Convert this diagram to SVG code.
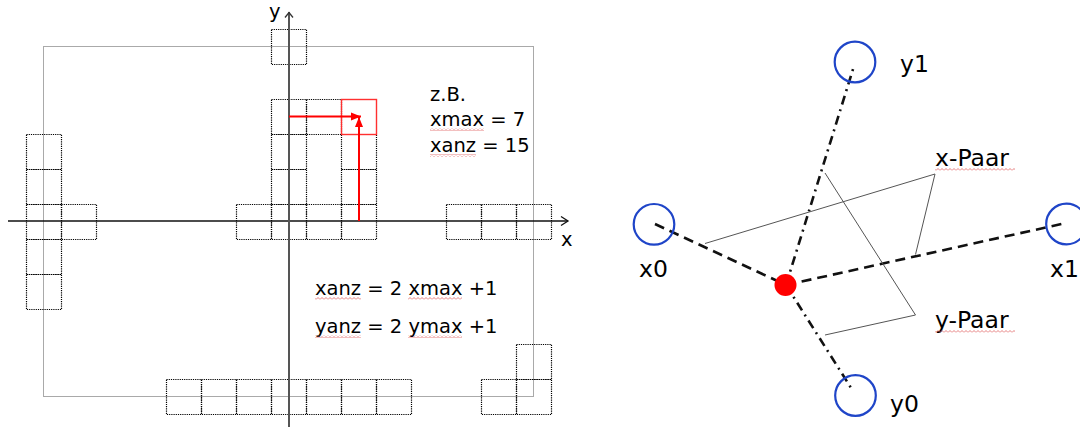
<svg xmlns="http://www.w3.org/2000/svg" width="1080" height="427" viewBox="0 0 1080 427">
<style>
.cell{fill:none;stroke:#000;stroke-width:1.2;stroke-dasharray:1.2 1}
.outer{fill:none;stroke:#555;stroke-width:1.1;stroke-dasharray:1 1}
.t{font-family:"DejaVu Sans",Verdana,sans-serif;font-size:19.5px;fill:#000}
.t2{font-family:"DejaVu Sans",Verdana,sans-serif;font-size:23.5px;fill:#000}
.node{fill:none;stroke:#1f45c8;stroke-width:2.2}
.dash{fill:none;stroke:#111;stroke-width:2.6;stroke-dasharray:10 6}
.dashdot{fill:none;stroke:#111;stroke-width:2.6;stroke-dasharray:9 5 2 5}
.thin{fill:none;stroke:#555;stroke-width:1}
.wave{fill:url(#wv)}
</style>
<defs>
<marker id="ra" markerUnits="userSpaceOnUse" markerWidth="12" markerHeight="10" refX="10" refY="5" orient="auto">
<path d="M0,1 L10,5 L0,9 Z" fill="#ff0000"/>
</marker>
<pattern id="wv" patternUnits="userSpaceOnUse" width="4" height="3">
<path d="M0,2.5 L2,0.5 L4,2.5" fill="none" stroke="#e06060" stroke-width="0.8"/>
</pattern>
</defs>
<rect width="1080" height="427" fill="#fff"/>

<g id="grid-left">
<rect class="outer" x="43.5" y="46.5" width="490" height="350"/>
<g transform="translate(0.5,0.5)">
<rect class="cell" x="271" y="29" width="35" height="35"/>
<rect class="cell" x="271" y="99" width="35" height="35"/>
<rect class="cell" x="271" y="134" width="35" height="35"/>
<rect class="cell" x="271" y="169" width="35" height="35"/>
<rect class="cell" x="271" y="204" width="35" height="35"/>
<rect class="cell" x="306" y="99" width="35" height="35"/>
<rect class="cell" x="306" y="204" width="35" height="35"/>
<rect class="cell" x="341" y="134" width="35" height="35"/>
<rect class="cell" x="341" y="169" width="35" height="35"/>
<rect class="cell" x="341" y="204" width="35" height="35"/>
<rect class="cell" x="236" y="204" width="35" height="35"/>
<rect class="cell" x="446" y="204" width="35" height="35"/>
<rect class="cell" x="481" y="204" width="35" height="35"/>
<rect class="cell" x="516" y="204" width="35" height="35"/>
<rect class="cell" x="26" y="134" width="35" height="35"/>
<rect class="cell" x="26" y="169" width="35" height="35"/>
<rect class="cell" x="26" y="204" width="35" height="35"/>
<rect class="cell" x="26" y="239" width="35" height="35"/>
<rect class="cell" x="26" y="274" width="35" height="35"/>
<rect class="cell" x="61" y="204" width="35" height="35"/>
<rect class="cell" x="166" y="379" width="35" height="35"/>
<rect class="cell" x="201" y="379" width="35" height="35"/>
<rect class="cell" x="236" y="379" width="35" height="35"/>
<rect class="cell" x="271" y="379" width="35" height="35"/>
<rect class="cell" x="306" y="379" width="35" height="35"/>
<rect class="cell" x="341" y="379" width="35" height="35"/>
<rect class="cell" x="376" y="379" width="35" height="35"/>
<rect class="cell" x="481" y="379" width="35" height="35"/>
<rect class="cell" x="516" y="379" width="35" height="35"/>
<rect class="cell" x="516" y="344" width="35" height="35"/>
</g>
<rect x="341.5" y="99.5" width="35" height="35" fill="none" stroke="#ff3030" stroke-width="1.4"/>
</g>

<g id="axes">
<line x1="8" y1="221" x2="568" y2="221" stroke="#111" stroke-width="1.6"/>
<polyline points="561,216.5 568,221 561,225.5" fill="none" stroke="#111" stroke-width="1.3"/>
<text class="t" x="561" y="246">x</text>
<line x1="289" y1="427" x2="289" y2="12" stroke="#555" stroke-width="2"/>
<polyline points="285,17.5 289,12.5 293,17.5" fill="none" stroke="#333" stroke-width="1.3"/>
<text class="t" x="269" y="18">y</text>
</g>

<g id="red-arrows" fill="none" stroke="#ff0000" stroke-width="2">
<line x1="289" y1="116.5" x2="361" y2="116.5" marker-end="url(#ra)"/>
<line x1="359" y1="221" x2="359" y2="117" marker-end="url(#ra)"/>
</g>

<g id="texts-left">
<text class="t" x="430" y="100.5">z.B.</text>
<text class="t" x="430" y="125.5">xmax = 7</text>
<text class="t" x="430" y="151.5">xanz = 15</text>
<text class="t" x="315" y="295">xanz = 2 xmax +1</text>
<text class="t" x="315" y="333">yanz = 2 ymax +1</text>
</g>

<g id="connectors">
<line class="dash" x1="655" y1="224" x2="786" y2="285"/>
<line class="dash" x1="786" y1="285" x2="1066" y2="223"/>
<line class="dashdot" x1="786" y1="285" x2="854" y2="66"/>
<line class="dashdot" x1="786" y1="285" x2="853" y2="391"/>
<polyline class="thin" points="705,243.5 935,174 915.5,254.5"/>
<polyline class="thin" points="825,173 915.5,315 825,335"/>
</g>

<g id="node-x0"><circle class="node" cx="654" cy="224.3" r="20.3"/><text class="t2" x="639" y="277">x0</text></g>
<g id="node-x1"><circle class="node" cx="1066.5" cy="224" r="20.3"/><text class="t2" x="1050" y="277">x1</text></g>
<g id="node-y1"><circle class="node" cx="855" cy="62" r="20.3"/><text class="t2" x="900" y="72">y1</text></g>
<g id="node-y0"><circle class="node" cx="855.5" cy="395.5" r="20.3"/><text class="t2" x="890" y="412">y0</text></g>
<g id="node-center"><circle cx="785.5" cy="285" r="11" fill="#ff0000"/></g>
<g id="label-xpaar"><text class="t2" x="935" y="166">x-Paar</text></g>
<g id="label-ypaar"><text class="t2" x="935" y="328">y-Paar</text></g>

<g id="spellcheck">
<rect class="wave" x="430" y="128" width="54" height="3"/>
<rect class="wave" x="430" y="154" width="46" height="3"/>
<rect class="wave" x="315" y="297" width="46" height="3"/>
<rect class="wave" x="408" y="297" width="54" height="3"/>
<rect class="wave" x="315" y="335" width="46" height="3"/>
<rect class="wave" x="408" y="335" width="54" height="3"/>
<rect class="wave" x="935" y="168" width="80" height="3"/>
<rect class="wave" x="935" y="330" width="80" height="3"/>
</g>
</svg>
